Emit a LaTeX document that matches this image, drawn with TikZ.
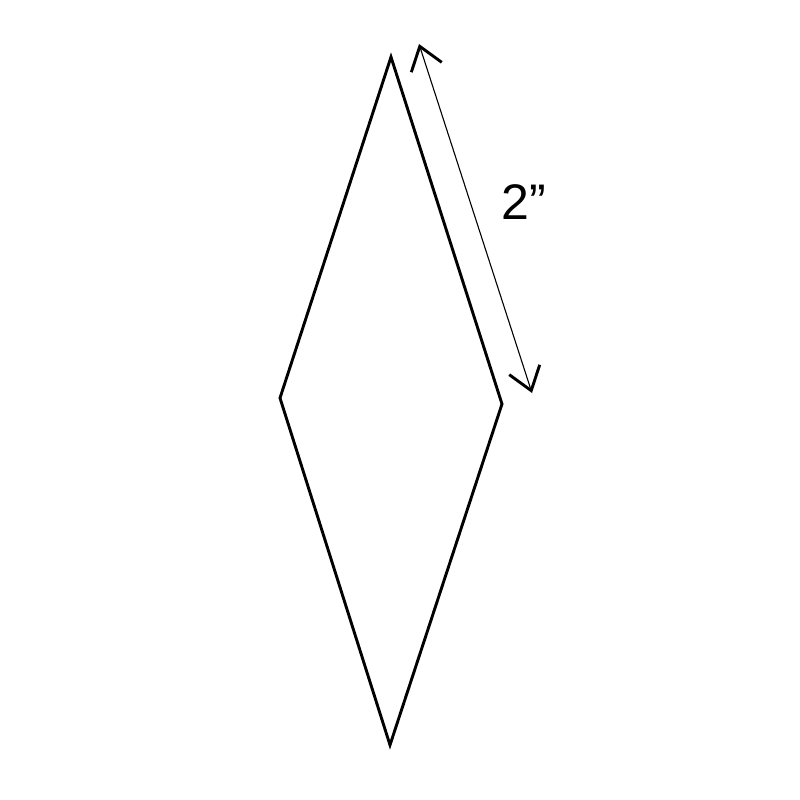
\documentclass[tikz,border=0pt]{standalone}
\usepackage{fontspec}
\setmainfont{Liberation Sans}
\usetikzlibrary{arrows.meta}
\begin{document}
\begin{tikzpicture}[x=1pt,y=-1pt,
  edge/.style={line width=2.9pt, line join=miter},
  dim/.style={line width=1.1pt, {Straight Barb[length=22pt,width=32pt,line width=2.9pt]}-{Straight Barb[length=22pt,width=32pt,line width=2.9pt]}},
  lbl/.style={inner sep=0pt, font=\fontsize{50}{56}\selectfont}]
\useasboundingbox (0,0) rectangle (800,800);
\coordinate (T) at (391,57);
\coordinate (L) at (280,398);
\coordinate (B) at (390,745);
\coordinate (R) at (502,404);
\draw[edge] (T) -- (L) -- (B) -- (R) -- cycle;
\coordinate (a1) at (419,44);
\coordinate (a2) at (532,393);
\draw[dim] (a1) -- (a2);
\node[lbl] (len) at (524,202) {2”};
\end{tikzpicture}
\end{document}
